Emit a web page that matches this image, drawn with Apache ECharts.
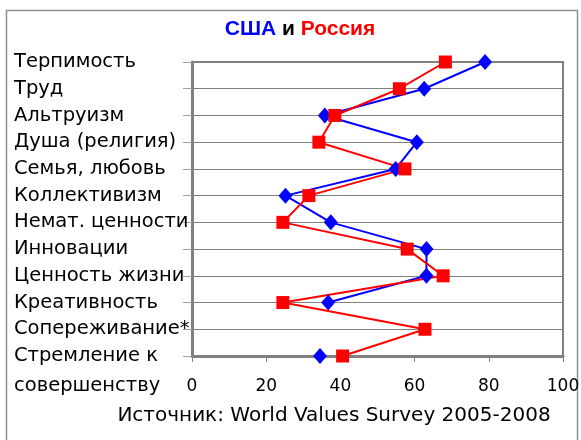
<!DOCTYPE html>
<html><head><meta charset="utf-8">
<script src="https://cdn.jsdelivr.net/npm/echarts@6/dist/echarts.min.js"></script>
<style>html,body{margin:0;padding:0;background:#fff}#c{width:581px;height:440px}</style>
</head><body><div id="c"></div>
<script>
const categories = ['Терпимость','Труд','Альтруизм','Душа (религия)','Семья, любовь','Коллективизм','Немат. ценности','Инновации','Ценность жизни','Креативность','Сопереживание*','Стремление к\nсовершенству'];
const usa = [79, 62.6, 35.8, 60.6, 54.9, 25.2, 37.4, 63.2, 63.2, 36.7, null, 34.5];
const russia = [68.3, 55.9, 38.5, 34.2, 57.4, 31.5, 24.5, 58, 67.7, 24.5, 62.8, 40.6];
const xTicks = {min: 0, max: 100, interval: 20};
const FONT = 'DejaVu Sans';
const TFONT = 'Liberation Sans';

const yData = categories.map((c, i) => i === categories.length - 1
  ? {value: c, textStyle: {lineHeight: 30, align: 'left', fontSize: 19.5, fontFamily: FONT, color: '#000'}}
  : {value: c});

const chart = echarts.init(document.getElementById('c'), null, {renderer: 'canvas'});
chart.setOption({
  animation: false,
  backgroundColor: '#fff',
  grid: {left: 192, right: 18, top: 62, bottom: 84, show: true, borderColor: '#808080', borderWidth: 2, outerBoundsMode: 'none', containLabel: false},
  xAxis: {
    type: 'value', min: xTicks.min, max: xTicks.max, interval: xTicks.interval,
    axisLine: {show: true, lineStyle: {color: '#808080', width: 3}},
    axisTick: {show: true, length: 6, lineStyle: {color: '#808080'}},
    splitLine: {show: false},
    axisLabel: {color: '#000', fontSize: 17, fontFamily: FONT, margin: 22}
  },
  yAxis: {
    type: 'category', inverse: true, boundaryGap: false, data: yData,
    axisLine: {show: true, lineStyle: {color: '#808080', width: 3}},
    axisTick: {show: true, length: 9, alignWithLabel: true, lineStyle: {color: '#a0a0a0'}},
    splitLine: {show: true, lineStyle: {color: '#808080', width: 1}},
    axisLabel: {color: '#000', fontSize: 19.5, fontFamily: FONT, align: 'left', margin: 178, interval: 0,
      formatter: v => v.indexOf('\n') >= 0 ? '\n' + v : v}
  },
  series: [
    {name: 'США', type: 'line', data: usa, connectNulls: false, symbol: 'diamond', symbolSize: [14, 16],
     itemStyle: {color: '#0000ff'}, lineStyle: {color: '#0000ff', width: 2}},
    {name: 'Россия', type: 'line', data: russia, connectNulls: false, symbol: 'rect', symbolSize: 13,
     itemStyle: {color: '#ff0000'}, lineStyle: {color: '#ff0000', width: 2}}
  ],
  graphic: [
    {type: 'rect', shape: {x: 6.5, y: 10.5, width: 571, height: 440}, style: {fill: null, stroke: '#909090', lineWidth: 1.5}, silent: true, z: -1},
    {type: 'text', x: 300, y: 29, style: {text: '{b|США }{k|и }{r|Россия}', align: 'center', verticalAlign: 'middle',
      rich: {b: {fill: '#0000ff', fontSize: 21, fontWeight: 'bold', fontFamily: TFONT},
             k: {fill: '#000', fontSize: 21, fontWeight: 'bold', fontFamily: TFONT},
             r: {fill: '#ff0000', fontSize: 21, fontWeight: 'bold', fontFamily: TFONT}}}},
    {type: 'text', x: 334, y: 416, style: {text: 'Источник: World Values Survey 2005-2008', align: 'center', verticalAlign: 'middle', fill: '#000', fontSize: 20, fontFamily: FONT}}
  ]
});
</script></body></html>
